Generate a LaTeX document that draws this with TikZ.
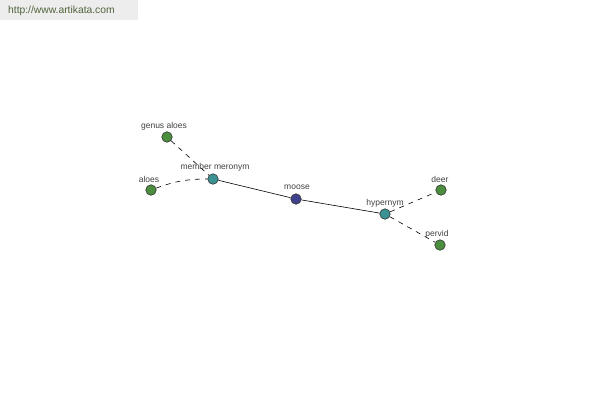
\documentclass[tikz,border=0pt]{standalone}
\usepackage{fontspec}
\setmainfont{Liberation Sans}
\definecolor{leafc}{RGB}{74,142,62}
\definecolor{midc}{RGB}{58,146,146}
\definecolor{rootc}{RGB}{62,66,140}
\definecolor{urlc}{RGB}{80,100,60}
\begin{document}
\begin{tikzpicture}[x=1pt,y=-1pt,
  dot/.style={circle,draw=black!80,line width=0.6pt,minimum size=10.5pt,inner sep=0pt},
  leaf/.style={dot,fill=leafc},
  mid/.style={dot,fill=midc},
  root/.style={dot,fill=rootc},
  lbl/.style={font=\fontsize{8.5}{9}\selectfont,text=black!75,inner sep=0pt},
  dashln/.style={dash pattern=on 5pt off 5pt,line width=0.6pt},
  solidln/.style={line width=0.6pt}]
\useasboundingbox (0,0) rectangle (600,400);
\fill[black!7] (0,0) rectangle (138,20);
\node[anchor=west,inner sep=0pt,text=urlc,font=\fontsize{10.3}{11}\selectfont] (url) at (8,11) {http://www.artikata.com};
\node[leaf] (ga) at (167,137) {};
\node[leaf] (al) at (151,190) {};
\node[mid] (mm) at (213,179) {};
\node[root] (mo) at (296,199) {};
\node[mid] (hy) at (385,214) {};
\node[leaf] (de) at (441,190) {};
\node[leaf] (pe) at (440,245) {};
\draw[dashln] (ga) -- (mm);
\draw[dashln] (al) to[bend left=10] (mm);
\draw[solidln] (mm) -- (mo);
\draw[solidln] (mo) -- (hy);
\draw[dashln] (hy) -- (de);
\draw[dashln] (hy) -- (pe);
\node[lbl] (tga) at (164,126) {genus aloes};
\node[lbl] (tal) at (149,179) {aloes};
\node[lbl] (tmm) at (215,167) {member meronym};
\node[lbl] (tmo) at (297,187) {moose};
\node[lbl] (thy) at (385,203) {hypernym};
\node[lbl] (tde) at (440,179) {deer};
\node[lbl] (tpe) at (437,234) {pervid};
\end{tikzpicture}
\end{document}
